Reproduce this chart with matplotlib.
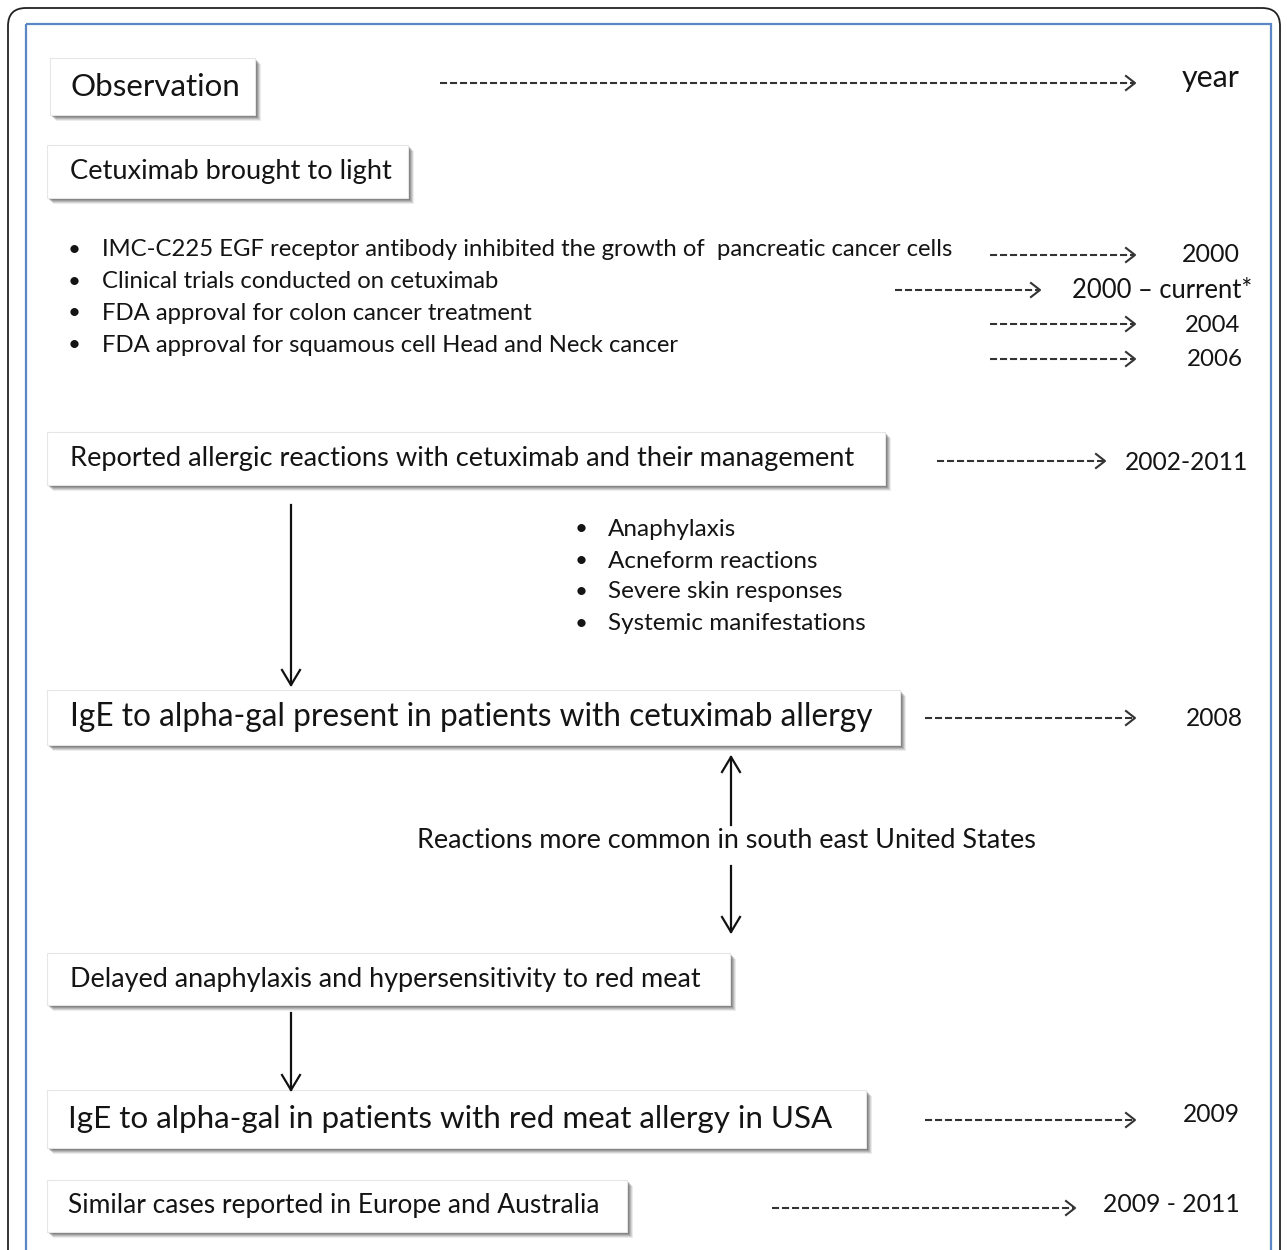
import matplotlib.pyplot as plt
from matplotlib.patches import Rectangle, FancyBboxPatch

# Texts of the boxes and their geometry: (box x0, box y0, box x1, box y1, text x0, text x1)
box_labels = [
    "Observation",
    "Cetuximab brought to light",
    "Reported allergic reactions with cetuximab and their management",
    "IgE to alpha-gal present in patients with cetuximab allergy",
    "Delayed anaphylaxis and hypersensitivity to red meat",
    "IgE to alpha-gal in patients with red meat allergy in USA",
    "Similar cases reported in Europe and Australia",
]
box_geom = [
    (50, 58, 255, 115, 70, 240),
    (47, 145, 408, 198, 70, 393),
    (47, 432, 885, 485, 70, 860),
    (47, 690, 900, 745, 70, 873),
    (47, 953, 730, 1005, 70, 703),
    (47, 1090, 866, 1148, 68, 836),
    (47, 1180, 627, 1232, 68, 601),
]

first_bullets = [
    "IMC-C225 EGF receptor antibody inhibited the growth of  pancreatic cancer cells",
    "Clinical trials conducted on cetuximab",
    "FDA approval for colon cancer treatment",
    "FDA approval for squamous cell Head and Neck cancer",
]
first_bullet_y = [250, 282, 313, 345]

reaction_bullets = ["Anaphylaxis", "Acneform reactions", "Severe skin responses",
                    "Systemic manifestations"]
reaction_bullet_y = [529, 561, 592, 624]

years = ["year", "2000", "2000 \u2013 current*", "2004", "2006", "2002-2011",
         "2008", "2009", "2009 - 2011"]
year_pos = [(1182, 1240, 78), (1182, 1240, 255), (1072, 1253, 290), (1185, 1240, 325),
            (1187, 1243, 359), (1125, 1248, 462), (1186, 1243, 718), (1183, 1240, 1115),
            (1103, 1240, 1205)]
dash_arrows = [(440, 1135, 83), (990, 1135, 255), (895, 1040, 290), (990, 1135, 324),
               (990, 1135, 359), (937, 1105, 461), (925, 1135, 718), (925, 1135, 1120),
               (772, 1075, 1208)]

# vertical arrows: x, start y, tip y
v_arrows = [(291, 505, 685), (731, 825, 757), (731, 866, 932), (291, 1013, 1090)]

note = "Reactions more common in south east United States"

W, H = 1287, 1250
fig = plt.figure(figsize=(W / 100, H / 100), dpi=100)
ax = fig.add_axes([0, 0, 1, 1])
ax.set_xlim(0, W)
ax.set_ylim(H, 0)
ax.axis('off')
fig.canvas.draw()
renderer = fig.canvas.get_renderer()

BOX_FONT = ['Lato', 'DejaVu Sans']
YEAR_FONT = ['Lato', 'DejaVu Sans']
INK = '#141414'


def fit_text(x0, x1, y, s, family):
    t = ax.text(x0, y, s, fontsize=20, family=family, ha='left', va='center',
                color=INK, zorder=5)
    bb = t.get_window_extent(renderer)
    t.set_fontsize(20 * (x1 - x0) / bb.width)
    return t


def bullet(x, y):
    ax.text(x, y, "\u2022", fontsize=16, ha='center', va='center', family=BOX_FONT,
            color=INK)


# frames
ax.add_patch(FancyBboxPatch((8, 8), W - 15, H + 40, boxstyle='round,pad=0,rounding_size=18',
                            fc='none', ec='#222222', lw=1.3, zorder=1))
ax.add_patch(Rectangle((26, 24), 1245, H + 40, fc='none', ec='#5b87c5', lw=1.6, zorder=1))

# boxes with drop shadows
for label, (bx0, by0, bx1, by1, tx0, tx1) in zip(box_labels, box_geom):
    for i, a in enumerate([0.10, 0.15, 0.20, 0.25, 0.32]):
        off = 6 - i
        ax.add_patch(Rectangle((bx0 + off, by0 + off), bx1 - bx0, by1 - by0,
                               fc='#4a4a4a', ec='none', alpha=a, zorder=2))
    ax.add_patch(Rectangle((bx0, by0), bx1 - bx0, by1 - by0, fc='white',
                           ec='#e6e6e6', lw=0.8, zorder=3))
    fit_text(tx0, tx1, (by0 + by1) / 2, label, BOX_FONT)

# bullet lists
for y in first_bullet_y:
    bullet(74, y)
fit_text(102, 957, first_bullet_y[0], first_bullets[0], BOX_FONT)
ref_size = ax.texts[-1].get_fontsize()
for s, y in zip(first_bullets[1:], first_bullet_y[1:]):
    ax.text(102, y, s, fontsize=ref_size, family=BOX_FONT, ha='left', va='center',
            color=INK)

for y in reaction_bullet_y:
    bullet(581, y)
fit_text(608, 866, reaction_bullet_y[-1], reaction_bullets[-1], BOX_FONT)
ref_size = ax.texts[-1].get_fontsize()
for s, y in zip(reaction_bullets[:-1], reaction_bullet_y[:-1]):
    ax.text(608, y, s, fontsize=ref_size, family=BOX_FONT, ha='left', va='center',
            color=INK)

fit_text(417, 1038, 840, note, BOX_FONT)

# years and dashed arrows
for s, (x0, x1, y) in zip(years, year_pos):
    fit_text(x0, x1, y, s, YEAR_FONT)
for x0, x1, y in dash_arrows:
    ax.plot([x0, x1 - 2], [y, y], color='#333333', lw=1.5, ls=(0, (3.4, 1.4)),
            solid_capstyle='butt', zorder=4)
    ax.plot([x1 - 9, x1, x1 - 9], [y - 7, y, y + 7], color='#333333', lw=1.5, zorder=4)

# solid vertical arrows
for x, y0, y1 in v_arrows:
    d = 1 if y1 > y0 else -1
    ax.plot([x, x], [y0, y1], color='#111111', lw=1.6, zorder=4)
    ax.plot([x - 9, x, x + 9], [y1 - d * 15, y1, y1 - d * 15], color='#111111', lw=1.6,
            zorder=4)

fig.savefig('out.png', dpi=100, facecolor='white')
